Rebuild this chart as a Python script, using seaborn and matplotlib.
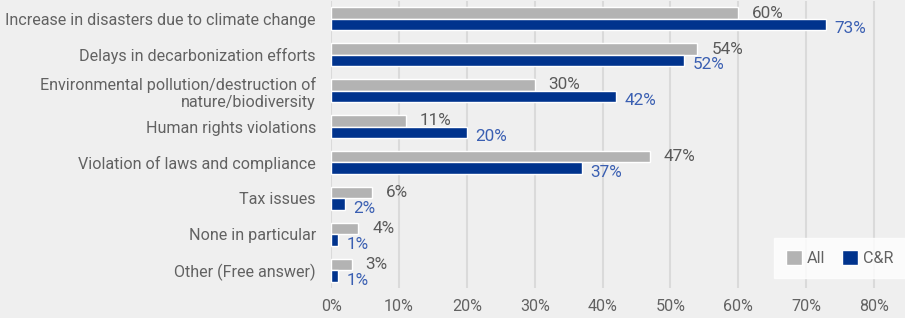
import matplotlib
matplotlib.use("Agg")
import matplotlib.pyplot as plt
import pandas as pd
import seaborn as sns

categories = [
    "Increase in disasters due to climate change",
    "Delays in decarbonization efforts",
    "Environmental pollution/destruction of\nnature/biodiversity",
    "Human rights violations",
    "Violation of laws and compliance",
    "Tax issues",
    "None in particular",
    "Other (Free answer)",
]
all_values = [60, 54, 30, 11, 47, 6, 4, 3]
cr_values = [73, 52, 42, 20, 37, 2, 1, 1]
groups = ["All", "C&R"]
xticks = [0, 10, 20, 30, 40, 50, 60, 70, 80]

df = pd.DataFrame({
    "category": categories * 2,
    "group": [groups[0]] * len(categories) + [groups[1]] * len(categories),
    "value": all_values + cr_values,
})

bg = "#efefef"
text_grey = "#626262"
bar_colors = {"All": "#b3b3b3", "C&R": "#00338d"}
label_colors = {"All": "#5a5a5a", "C&R": "#3a5fb2"}

sns.set_style("white")
plt.rcParams["font.family"] = ["Roboto", "DejaVu Sans"]

fig = plt.figure(figsize=(9.05, 3.18), dpi=100, facecolor=bg)
ax = fig.add_axes([0.366, 0.094, 0.634, 0.903])
ax.set_facecolor(bg)

sns.barplot(data=df, y="category", x="value", hue="group", order=categories,
            hue_order=groups, palette=bar_colors, width=0.64, orient="h",
            saturation=1, ax=ax, zorder=3)

# value labels next to each bar
for grp, cont in zip(groups, ax.containers):
    vals = all_values if grp == "All" else cr_values
    anns = ax.bar_label(cont, labels=[f"{v}%" for v in vals], padding=10,
                        color=label_colors[grp], fontsize=12.3)
    if grp == "C&R":
        for a in anns:
            a.xyann = (6, -3)

ax.set_xlim(0, 84.6)
ax.set_xticks(xticks)
ax.set_xticklabels([f"{t}%" for t in xticks])
ax.set_ylim(len(categories) - 0.5, -0.5)
ax.grid(axis="x", color="#dadada", linewidth=1.5, zorder=0)
ax.set_axisbelow(True)
for s in ax.spines.values():
    s.set_visible(False)
ax.tick_params(axis="both", length=0, colors=text_grey, labelsize=11.6)
ax.tick_params(axis="y", pad=11)
ax.tick_params(axis="x", pad=8)
ax.set_xlabel("")
ax.set_ylabel("")

leg = ax.legend(loc="lower right", bbox_to_anchor=(1.0, 0.035),
                borderaxespad=0, ncol=2, frameon=True, fancybox=False,
                handlelength=1.0, handleheight=1.0, columnspacing=1.0,
                handletextpad=0.3, fontsize=11.6, borderpad=0.75)
leg.get_frame().set_facecolor("white")
leg.get_frame().set_edgecolor("white")
for t in leg.get_texts():
    t.set_color(text_grey)

fig.savefig("out.png", dpi=100, facecolor=bg)
